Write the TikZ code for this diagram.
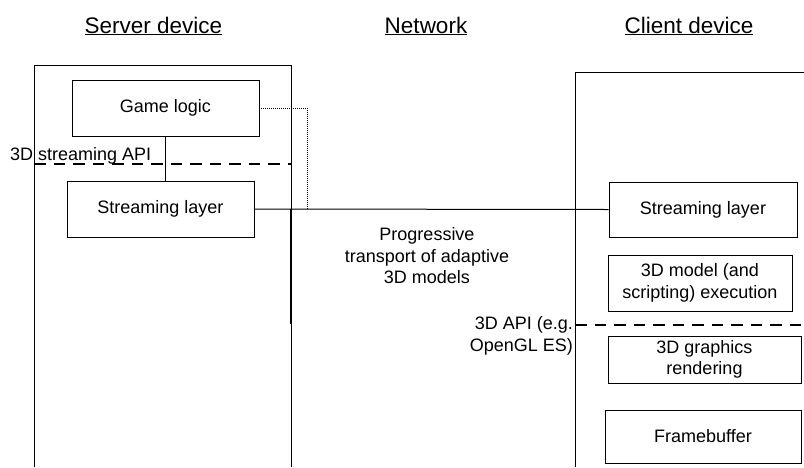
\documentclass[tikz,border=0pt]{standalone}
\usepackage{fontspec}
\setmainfont{Liberation Sans}
\usetikzlibrary{calc}
\newcommand{\hdrline}[1]{\underline{#1}}
\begin{document}
\begin{tikzpicture}[x=1pt,y=-1pt,
  every node/.style={font=\fontsize{18}{21.5}\selectfont, inner sep=0pt},
  box/.style={draw=black, line width=0.9pt, rectangle, align=center},
  frame/.style={draw=black, line width=0.9pt},
  apiline/.style={draw=black, line width=2pt, dash pattern=on 11.5pt off 8pt},
  hdr/.style={font=\fontsize{22.5}{26}\selectfont, anchor=base},
  lbl/.style={align=center}]
  \useasboundingbox (0,0) rectangle (804,467);

  % column headings
  \node[hdr] (hs) at (153.5,33) {\hdrline{Server device}};
  \node[hdr] (hn) at (426,33) {\hdrline{Network}};
  \node[hdr] (hc) at (689,33) {\hdrline{Client device}};

  % device outlines
  \draw[frame] (34,467) -- (34,65) -- (291,65) -- (291,467);
  \draw[frame] (575,467) -- (575,72) -- (804,72);

  % server side
  \node[box, minimum width=187pt, minimum height=56pt] (gl) at (165.5,108) {Game logic};
  \node[box, minimum width=187pt, minimum height=56pt] (ssl) at (160.5,209) {Streaming layer};
  \draw[apiline] (34,164) -- (291,164);
  \node[anchor=base west] (sapi) at (10,160) {3D streaming API};
  \draw[line width=0.9pt] (gl.south -| 165,0) -- (ssl.north -| 165,0);

  % client side
  \node[box, minimum width=188pt, minimum height=55pt] (csl) at (703,209.5) {Streaming layer};
  \node[box, minimum width=184pt, minimum height=56pt] (exe) at (700,283) {3D model (and\\scripting) execution};
  \node[box, minimum width=193pt, minimum height=47pt] (rnd) at (704.5,359.5) {3D graphics\\rendering};
  \node[box, minimum width=196pt, minimum height=53pt] (fb) at (703,436.5) {Framebuffer};
  \draw[apiline] (575,325) -- (804,325);
  \node[lbl, align=right, anchor=east] (capi) at (573,336) {3D API (e.g.\\OpenGL ES)};

  % network link
  \coordinate (bend) at (307,108);
  \draw[line width=0.8pt, dash pattern=on 1pt off 1pt] (gl.east) -- (bend) -- (bend |- ssl.east);
  \draw[line width=1pt] (ssl.east) -- (csl.west);
  \draw[line width=2.2pt] (291,209) -- (291,324);
  \node[lbl] (prog) at (427,256) {Progressive\\transport of adaptive\\3D models};
\end{tikzpicture}
\end{document}
